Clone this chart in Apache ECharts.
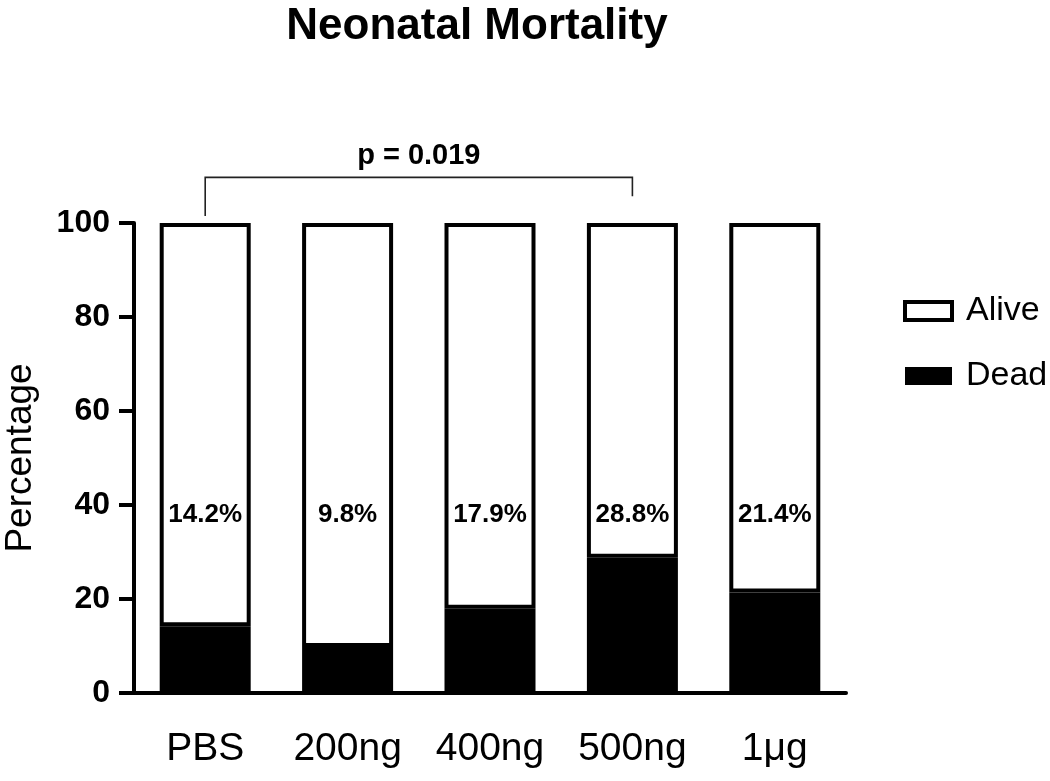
<!DOCTYPE html>
<html>
<head>
<meta charset="utf-8">
<script src="https://cdn.jsdelivr.net/npm/echarts@6/dist/echarts.min.js"></script>
<style>
  html, body { margin: 0; padding: 0; background: #fff; }
  #main { width: 1050px; height: 781px; }
</style>
</head>
<body>
<div id="main"></div>
<script>
// data
var groups = ['PBS', '200ng', '400ng', '500ng', '1μg'];
var deadPct = [14.2, 9.8, 17.9, 28.8, 21.4];
var alivePct = deadPct.map(function (d) { return +(100 - d).toFixed(1); });
var yTicks = [0, 20, 40, 60, 80, 100];
// comparison bracket: from group 0 to group 3
var bracket = { from: 0, to: 3, text: 'p = 0.019' };

var font = 'Arial, "Liberation Sans", Helvetica, sans-serif';

var myChart = echarts.init(document.getElementById('main'));

var option = {
  backgroundColor: '#fff',
  animation: false,
  title: {
    text: 'Neonatal Mortality',
    left: 472,
    textAlign: 'center',
    top: 0,
    textStyle: { fontFamily: font, fontSize: 44, fontWeight: 'bold', color: '#000' }
  },
  legend: {
    orient: 'vertical',
    left: 898,
    top: 289,
    itemWidth: 47,
    itemHeight: 18,
    itemGap: 31,
    textStyle: { fontFamily: font, fontSize: 34, color: '#000', padding: [0, 0, 0, 9] },
    data: [
      { name: 'Alive', icon: 'rect', itemStyle: { color: '#fff', borderColor: '#000', borderWidth: 4 } },
      { name: 'Dead', icon: 'rect', itemStyle: { color: '#000', borderColor: '#000', borderWidth: 0 } }
    ]
  },
  grid: { left: 134, top: 223, width: 712, bottom: 88, containLabel: false, outerBoundsMode: 'none' },
  xAxis: {
    type: 'category',
    data: groups,
    axisLine: { lineStyle: { color: '#000', width: 4 } },
    axisTick: { alignWithLabel: true, length: 14, lineStyle: { color: '#000', width: 4 } },
    axisLabel: { margin: 37, fontFamily: font, fontSize: 39, color: '#000' }
  },
  yAxis: {
    type: 'value',
    min: 0,
    max: 100,
    interval: 20,
    name: 'Percentage',
    nameLocation: 'middle',
    nameGap: 95,
    nameTextStyle: { fontFamily: font, fontSize: 37, color: '#000' },
    axisLine: { show: true, lineStyle: { color: '#000', width: 4 } },
    axisTick: { show: true, length: 15, lineStyle: { color: '#000', width: 4 } },
    axisLabel: {
      margin: 24,
      fontFamily: font, fontSize: 32, fontWeight: 'bold', color: '#000',
      formatter: function (v) { return yTicks.indexOf(v) >= 0 ? v : ''; }
    },
    splitLine: { show: false }
  },
  series: [
    {
      name: 'Dead',
      type: 'bar',
      stack: 'total',
      barWidth: 91,
      z: 3,
      data: deadPct,
      itemStyle: { color: '#000', borderWidth: 0 }
    },
    {
      name: 'Alive',
      type: 'bar',
      stack: 'total',
      barWidth: 91,
      data: alivePct,
      itemStyle: { color: '#fff', borderColor: '#000', borderWidth: 4 },
      label: {
        show: true,
        position: ['50%', 292],
        align: 'center',
        verticalAlign: 'middle',
        fontFamily: font,
        fontSize: 26,
        fontWeight: 'bold',
        color: '#000',
        formatter: function (p) { return deadPct[p.dataIndex].toFixed(1) + '%'; }
      }
    },
    {
      name: 'bracket',
      type: 'custom',
      clip: false,
      silent: true,
      z: 10,
      data: [[bracket.from, bracket.to]],
      renderItem: function (params, api) {
        var a = api.coord([api.value(0), 109.7]);
        var b = api.coord([api.value(1), 109.7]);
        var aLow = api.coord([api.value(0), 101.5]);
        var bLow = api.coord([api.value(1), 105.7]);
        return {
          type: 'group',
          children: [
            {
              type: 'polyline',
              shape: { points: [[a[0], aLow[1]], [a[0], a[1]], [b[0], b[1]], [b[0], bLow[1]]] },
              style: { stroke: '#222', lineWidth: 1.6, fill: null }
            },
            {
              type: 'text',
              x: (a[0] + b[0]) / 2,
              y: a[1] - 21,
              style: {
                text: bracket.text,
                fontFamily: font,
                fontSize: 29,
                fontWeight: 'bold',
                fill: '#000',
                align: 'center',
                verticalAlign: 'middle'
              }
            }
          ]
        };
      }
    }
  ]
};

myChart.setOption(option);
window.addEventListener('resize', function () {
  myChart.resize();
});
</script>
</body>
</html>
